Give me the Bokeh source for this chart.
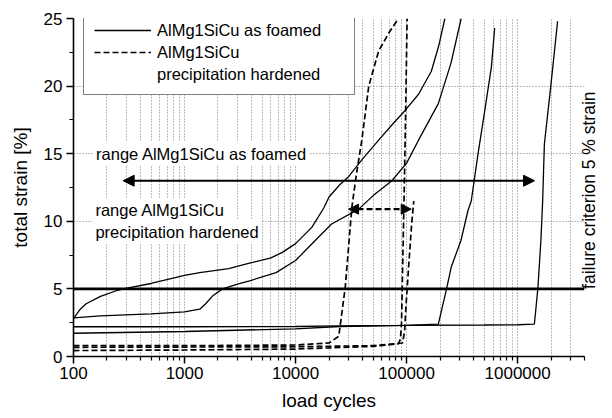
import math
from bokeh.plotting import figure
from bokeh.models import (Range1d, FixedTicker, PrintfTickFormatter, Span, Arrow,
                          NormalHead, Label, Legend, LegendItem, LinearAxis)
from bokeh.embed import file_html
from bokeh.resources import INLINE

# ---------------- data ----------------
# solid: AlMg1SiCu as foamed
A_N = [100, 115, 130, 175, 250, 280, 500, 1000, 1370, 2500, 3850, 6000, 7600, 10000, 14000,
       18000, 20000, 25000, 30000, 40000, 56000, 75000, 97000, 128000, 167000, 195000, 221000]
A_S = [2.8, 3.5, 3.9, 4.45, 4.9, 5.0, 5.4, 6.0, 6.2, 6.5, 6.9, 7.3, 7.7, 8.35, 9.55,
       11.0, 11.8, 12.7, 13.3, 14.6, 16.0, 17.2, 18.2, 19.4, 21.1, 23.0, 25.0]
B_N = [100, 175, 500, 1000, 1370, 1550, 1800, 2200, 3000, 3850, 6670, 10000, 15100, 21100,
       37000, 50000, 73700, 100000, 128000, 193000, 251000, 310000]
B_S = [2.85, 3.0, 3.15, 3.3, 3.5, 3.9, 4.5, 5.0, 5.35, 5.6, 6.2, 7.1, 8.6, 9.8,
       10.9, 11.9, 13.0, 14.3, 16.0, 18.7, 21.7, 25.0]
C_N = [100, 1000, 10000, 25000, 100000, 193000, 229000, 252000, 309000, 357000, 382000,
       440000, 506000, 580000, 621000]
C_S = [2.2, 2.2, 2.22, 2.27, 2.3, 2.4, 5.0, 6.6, 8.6, 10.8, 11.5,
       15.0, 18.2, 21.4, 24.3]
D_N = [100, 1000, 10000, 25000, 100000, 500000, 1000000, 1415000, 1520000, 1620000,
       1680000, 1740000, 2000000, 2290000]
D_S = [1.72, 1.85, 2.05, 2.22, 2.3, 2.33, 2.35, 2.4, 5.0, 8.6,
       11.5, 15.7, 20.2, 24.8]
# dashed: AlMg1SiCu precipitation hardened
E_N = [100, 1000, 10000, 20000, 24500, 28000, 32100, 34900, 39500, 45600, 56000, 70000, 84500]
E_S = [0.8, 0.8, 0.85, 1.0, 1.5, 5.1, 11.0, 13.2, 16.0, 20.0, 22.6, 24.0, 25.0]
F_N = [100, 1000, 10000, 50000, 84500, 88000, 90000, 92000, 95000, 98000, 101000]
F_S = [0.44, 0.48, 0.55, 0.75, 0.94, 1.3, 2.5, 6.4, 12.0, 18.0, 25.0]
G_N = [100, 1000, 10000, 50000, 92000, 96000, 99000, 104000, 111000, 116000]
G_S = [0.68, 0.7, 0.72, 0.8, 1.0, 1.9, 3.9, 6.5, 9.8, 11.5]

failure_level = 5
failure_text = "failure criterion 5 % strain"
range_foamed = [280, 1420000]
range_foamed_y = 13
range_ph = [30000, 110000]
range_ph_y = 10.9

x_major = [100, 1000, 10000, 100000, 1000000]
x_minor = [m * d for d in x_major for m in range(2, 10) if m * d <= 4e6]
y_major = [0, 5, 10, 15, 20, 25]
y_minor = [2.5, 7.5, 12.5, 17.5, 22.5]
y_grid = [10, 15, 20]

FONT = "Liberation Sans"

p = figure(width=612, height=418, x_axis_type="log",
           x_range=Range1d(100, 4e6), y_range=Range1d(0, 25),
           output_backend="svg", toolbar_location=None,
           min_border_left=73, min_border_right=25, min_border_top=18, min_border_bottom=62)
p.outline_line_color = None
p.background_fill_color = "white"
p.border_fill_color = "white"

# axes
p.xaxis.ticker = FixedTicker(ticks=x_major, minor_ticks=x_minor)
p.xaxis.formatter = PrintfTickFormatter(format="%d")
p.yaxis.ticker = FixedTicker(ticks=y_major, minor_ticks=y_minor)
p.xaxis.axis_label = "load cycles"
p.yaxis.axis_label = "total strain [%]"
for ax in (p.xaxis, p.yaxis):
    ax.axis_line_width = 1.6
    ax.axis_line_color = "black"
    ax.major_tick_line_width = 1.5
    ax.minor_tick_line_width = 1.2
    ax.major_tick_line_color = "black"
    ax.minor_tick_line_color = "black"
    ax.major_tick_out = 7
    ax.major_tick_in = 0
    ax.minor_tick_out = 4
    ax.minor_tick_in = 0
    ax.major_label_text_font = FONT
    ax.major_label_text_font_size = "17px"
    ax.major_label_text_color = "black"
    ax.axis_label_text_font = FONT
    ax.axis_label_text_font_size = "19px"
    ax.axis_label_text_font_style = "normal"
    ax.axis_label_text_color = "black"
p.xaxis.major_label_standoff = 3
p.xaxis.axis_label_standoff = 8
p.yaxis.major_label_standoff = 4
p.yaxis.axis_label_standoff = 10

# right-hand label: a single rotated tick label on an otherwise empty right axis,
# starting at the failure line and reading upwards
rax = LinearAxis(ticker=FixedTicker(ticks=[failure_level], minor_ticks=[]),
                 major_label_overrides={failure_level: failure_text},
                 major_label_orientation=math.pi / 2,
                 axis_line_color=None, major_tick_line_color=None, minor_tick_line_color=None,
                 major_tick_out=0, major_tick_in=0, minor_tick_out=0, minor_tick_in=0,
                 major_label_text_font=FONT, major_label_text_font_size="17.5px",
                 major_label_text_color="black", major_label_standoff=5)
p.add_layout(rax, "right")

# grids
p.xgrid.grid_line_color = "#7a7a7a"
p.xgrid.grid_line_dash = "1 2"
p.xgrid.grid_line_width = 1
p.xgrid.minor_grid_line_color = "#7a7a7a"
p.xgrid.minor_grid_line_dash = "1 2"
p.xgrid.minor_grid_line_width = 1
p.ygrid.ticker = FixedTicker(ticks=y_grid)
p.ygrid.grid_line_color = "#7a7a7a"
p.ygrid.grid_line_dash = "1 2"
p.ygrid.grid_line_width = 1

# curves
solid = dict(line_color="black", line_width=1.3)
dashed = dict(line_color="black", line_width=1.7, line_dash="6 3")
rA = p.line(A_N, A_S, **solid)
p.line(B_N, B_S, **solid)
p.line(C_N, C_S, **solid)
p.line(D_N, D_S, **solid)
rE = p.line(E_N, E_S, **dashed)
p.line(F_N, F_S, **dashed)
p.line(G_N, G_S, **dashed)
r_blank = p.line(x=[], y=[], line_alpha=0)

# failure criterion line
p.add_layout(Span(location=failure_level, dimension="width", line_color="black", line_width=2.6))

# range arrows
p.add_layout(Arrow(start=NormalHead(size=11, fill_color="black", line_color="black"),
                   end=NormalHead(size=11, fill_color="black", line_color="black"),
                   x_start=range_foamed[0], x_end=range_foamed[1],
                   y_start=range_foamed_y, y_end=range_foamed_y,
                   line_color="black", line_width=2.2))
p.add_layout(Arrow(start=NormalHead(size=10, fill_color="black", line_color="black"),
                   end=NormalHead(size=10, fill_color="black", line_color="black"),
                   x_start=range_ph[0], x_end=range_ph[1],
                   y_start=range_ph_y, y_end=range_ph_y,
                   line_color="black", line_width=2.4, line_dash="6 3"))

# text labels
lab_kw = dict(text_font=FONT, text_font_size="16.5px", text_color="black",
              text_baseline="middle", background_fill_color="white", padding=3)
p.add_layout(Label(x=150, y=15.0, text="range AlMg1SiCu as foamed", **lab_kw))
p.add_layout(Label(x=148, y=10.8, text="range AlMg1SiCu", **lab_kw))
p.add_layout(Label(x=148, y=9.2, text="precipitation hardened", **lab_kw))

# legend
legend = Legend(items=[LegendItem(label="AlMg1SiCu as foamed", renderers=[rA]),
                       LegendItem(label="AlMg1SiCu", renderers=[rE]),
                       LegendItem(label="precipitation hardened", renderers=[r_blank])],
                location=(10, 261), orientation="vertical",
                label_text_font=FONT, label_text_font_size="16.5px", label_text_color="black",
                glyph_width=57, glyph_height=20, label_height=20, label_width=187,
                label_standoff=6, spacing=2, padding=10, margin=0,
                border_line_color="black", border_line_width=1,
                background_fill_color="white", background_fill_alpha=1.0)
p.add_layout(legend)

open("out.html", "w").write(file_html(p, INLINE))
